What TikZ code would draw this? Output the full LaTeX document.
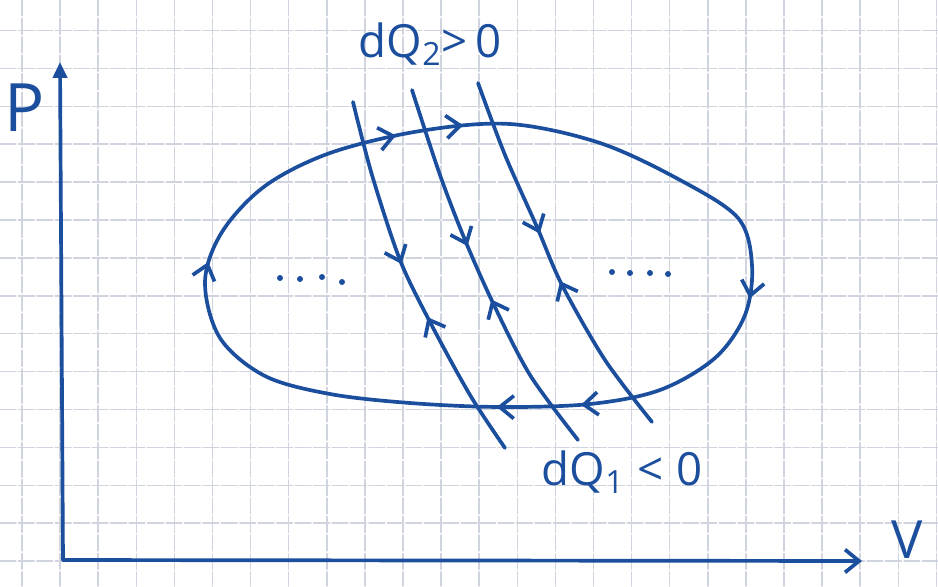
\documentclass[tikz,border=0pt]{standalone}
\usepackage{fontspec}
\setmainfont{Open Sans}
\usetikzlibrary{arrows.meta,decorations.markings}
\definecolor{encre}{RGB}{28,78,158}
\definecolor{quadrillage}{RGB}{208,212,222}

\begin{document}
\begin{tikzpicture}[line cap=round,line join=round,>={Straight Barb[length=8pt,width=13pt]},x=0.02cm,y=-0.02cm,
	trait/.style={color=encre,line width=2.1pt},
	grille/.style={color=quadrillage,line width=0.9pt,dash pattern=on 9pt off 1.5pt},
	texte/.style={text=encre,inner sep=0pt},
	adiab/.style 2 args={postaction={decorate},decoration={markings,
		mark=at position #1 with {\arrow{>}},
		mark=at position #2 with {\arrowreversed{>}}}}]
		\useasboundingbox (0,0) rectangle (938,586);
		% quadrillage
		\foreach \i in {0,...,24} \draw[grille] ({22+38.1*\i},0) -- ++(0,586);
		\foreach \j in {0,...,14} \draw[grille] (0,{30.5+37.9*\j}) -- ++(938,0);
		% axes
		\draw[trait,-{Triangle[length=9pt,width=8pt]}] (63,560) -- (60,62);
		\draw[trait,->] (63,560) -- (862,561);
		\node[texte,font=\fontsize{38}{40}\selectfont] (p) at (25,108) {P};
		\node[texte,font=\fontsize{30}{32}\selectfont] (v) at (907,540) {V};
		% le cycle
		\draw[trait,postaction={decorate},decoration={markings,
			mark=at position 0.015 with {\arrow{>}},
			mark=at position 0.190 with {\arrow{>}},
			mark=at position 0.240 with {\arrow{>}},
			mark=at position 0.520 with {\arrow{>}},
			mark=at position 0.678 with {\arrow{>}},
			mark=at position 0.740 with {\arrow{>}}}]
			plot[smooth cycle,tension=0.55] coordinates {(220,338) (205,282) (222,232) (265,186) (330,153) (420,131)
			(510,124) (600,143) (680,180) (738,218) (752,265) (745,315) (715,358) (660,390) (590,404)
			(500,407) (410,403) (330,394) (265,376)};
		% adiabatiques
		\draw[trait,adiab={0.445}{0.600}] plot[smooth] coordinates {(353,102) (372,175) (400,260) (430,322) (470,395) (505,448)};
		\draw[trait,adiab={0.425}{0.575}] plot[smooth] coordinates {(412,90) (440,175) (465,240) (493,303) (530,375) (578,440)};
		\draw[trait,adiab={0.425}{0.560}] plot[smooth] coordinates {(478,83) (505,155) (537,227) (562,285) (605,360) (652,422)};
		% petits points
		\foreach \x/\y in {280/278, 300/279, 322/277, 342/282, 612/272, 630/273, 650/273, 668/274}
			\fill[encre] (\x,\y) circle (3);
		% chaleurs
		\node[texte,font=\fontsize{26}{28}\selectfont] (dq2) at (430,44) {dQ\textsubscript{2}>\,0};
		\node[texte,font=\fontsize{26}{28}\selectfont] (dq1) at (622,472) {dQ\textsubscript{1}\;<\;0};
		\end{tikzpicture}
\end{document}
